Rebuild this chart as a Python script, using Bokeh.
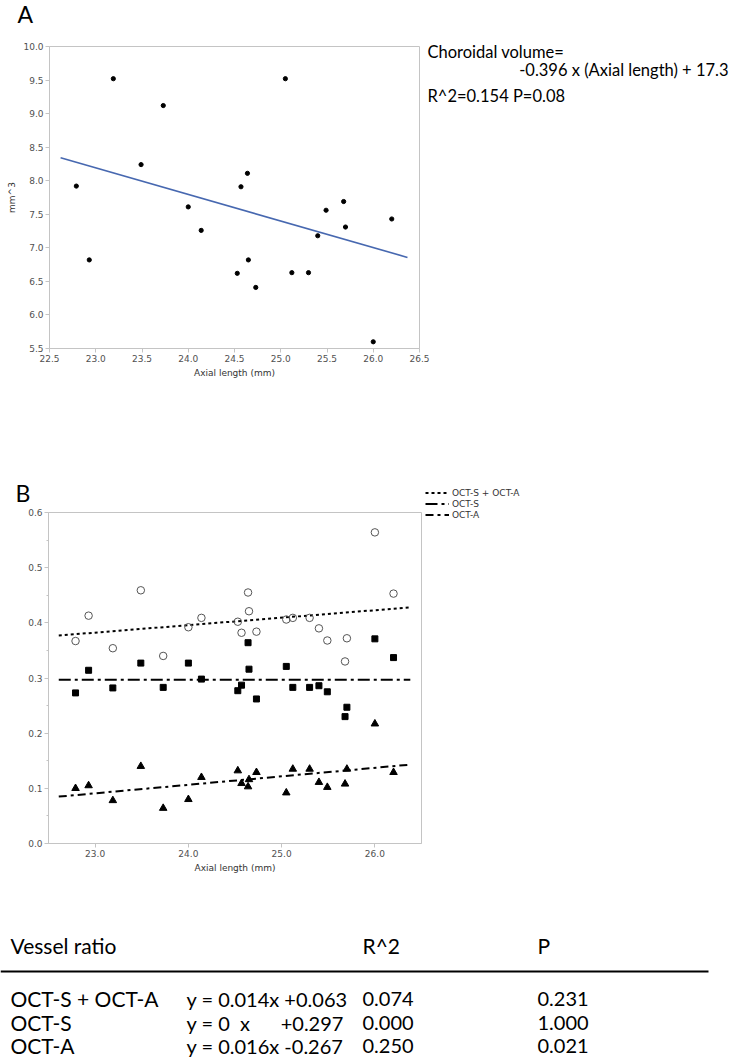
from bokeh.plotting import figure
from bokeh.models import Range1d, FixedTicker, Label, Legend, LegendItem, NumeralTickFormatter
from bokeh.layouts import column
from bokeh.embed import file_html
from bokeh.resources import INLINE
from bokeh.core.properties import value

# ---------------- data ----------------
axial_length = [22.79, 22.93, 23.19, 23.49, 23.73, 24.00, 24.14, 24.53, 24.57, 24.64, 24.65,
                24.73, 25.05, 25.12, 25.30, 25.40, 25.49, 25.68, 25.70, 26.00, 26.20]
choroidal_volume = [7.92, 6.82, 9.52, 8.24, 9.12, 7.61, 7.26, 6.62, 7.91, 8.11, 6.82,
                    6.41, 9.52, 6.63, 6.63, 7.18, 7.56, 7.69, 7.31, 5.60, 7.43]
oct_s_plus_a = [0.367, 0.413, 0.354, 0.459, 0.340, 0.392, 0.409, 0.402, 0.382, 0.455, 0.421,
                0.384, 0.406, 0.409, 0.409, 0.390, 0.368, 0.330, 0.372, 0.564, 0.453]
oct_s = [0.273, 0.314, 0.282, 0.327, 0.283, 0.327, 0.298, 0.277, 0.287, 0.364, 0.316,
         0.262, 0.321, 0.283, 0.283, 0.286, 0.275, 0.230, 0.247, 0.371, 0.337]
oct_a = [0.100, 0.105, 0.078, 0.140, 0.064, 0.080, 0.120, 0.132, 0.109, 0.103, 0.116,
         0.129, 0.092, 0.135, 0.135, 0.111, 0.102, 0.108, 0.135, 0.217, 0.129]

# regression of panel A
slope_a = -0.396
intercept_a = 17.3
fit_x_a = [22.62, 26.37]
# regression lines of panel B (end points)
fit_x_b = [22.61, 26.38]
fit_sa = [0.377, 0.428]
fit_s = [0.297, 0.297]
fit_a = [0.085, 0.143]

xlim_a = (22.5, 26.5)
ylim_a = (5.5, 10.0)
xlim_b = (22.5, 26.5)
ylim_b = (0.0, 0.6)
xticks_a = [22.5, 23.0, 23.5, 24.0, 24.5, 25.0, 25.5, 26.0, 26.5]
yticks_a = [5.5, 6.0, 6.5, 7.0, 7.5, 8.0, 8.5, 9.0, 9.5, 10.0]
xticks_b = [23.0, 24.0, 25.0, 26.0]
yticks_b = [0.0, 0.1, 0.2, 0.3, 0.4, 0.5, 0.6]
yminor_b = [0.05, 0.15, 0.25, 0.35, 0.45, 0.55]

annot_a = ["Choroidal volume=", "-0.396 x (Axial length) + 17.3", "R^2=0.154 P=0.08"]

table_header = ["Vessel ratio", "", "R^2", "P"]
table_names = ["OCT-S + OCT-A", "OCT-S", "OCT-A"]
table_eqs = ["y = 0.014x +0.063", "y = 0\u00a0 x\u00a0\u00a0\u00a0\u00a0\u00a0 +0.297", "y = 0.016x -0.267"]
table_r2 = ["0.074", "0.000", "0.250"]
table_p = ["0.231", "1.000", "0.021"]
legend_labels = ["OCT-S + OCT-A", "OCT-S", "OCT-A"]

# ---------------- style ----------------
W = 730
AX_FONT = "DejaVu Sans"
TXT_FONT = "Lato"
GRAY = "#c4c4c4"


class Geo:
    """maps pixel layout of a figure whose frame is the whole canvas"""
    def __init__(self, fw, fh, left, right, top, bottom, xlim, ylim):
        self.fw, self.fh = fw, fh
        self.left, self.top = left, top
        self.sx = (right - left) / (xlim[1] - xlim[0])
        self.sy = (bottom - top) / (ylim[1] - ylim[0])
        self.x0, self.y1 = xlim[0], ylim[1]
        self.xr = Range1d(self.x(0), self.x(fw))
        self.yr = Range1d(self.y(fh), self.y(0))

    def x(self, px):
        return self.x0 + (px - self.left) / self.sx

    def y(self, py):
        return self.y1 - (py - self.top) / self.sy


def make_panel(g, xlim, ylim, xticks, yticks, yminor):
    p = figure(width=g.fw, height=g.fh, x_range=g.xr, y_range=g.yr,
               output_backend="svg", toolbar_location=None, min_border=0)
    p.outline_line_color = None
    p.grid.visible = False
    p.background_fill_color = "white"
    p.border_fill_color = "white"
    p.xaxis.fixed_location = ylim[0]
    p.yaxis.fixed_location = xlim[0]
    p.xaxis.bounds = xlim
    p.yaxis.bounds = ylim
    p.xaxis.ticker = FixedTicker(ticks=xticks, minor_ticks=[])
    p.yaxis.ticker = FixedTicker(ticks=yticks, minor_ticks=yminor)
    for ax in (p.xaxis[0], p.yaxis[0]):
        ax.formatter = NumeralTickFormatter(format="0.0")
        ax.axis_line_color = GRAY
        ax.major_tick_line_color = GRAY
        ax.minor_tick_line_color = GRAY
        ax.major_tick_out = 4
        ax.major_tick_in = 0
        ax.minor_tick_out = 2
        ax.minor_tick_in = 0
        ax.major_label_text_font = AX_FONT
        ax.major_label_text_font_size = "9px"
        ax.major_label_text_color = "#505050"
        ax.axis_label_text_font = AX_FONT
        ax.axis_label_text_font_size = "9px"
        ax.axis_label_text_font_style = "normal"
        ax.axis_label_text_color = "#333333"
        ax.major_label_standoff = 2
        ax.axis_label_standoff = 3
    # plot box
    p.quad(left=[xlim[0]], right=[xlim[1]], bottom=[ylim[0]], top=[ylim[1]],
           fill_color=None, line_color=GRAY, line_width=1)
    return p


def text_label(g, px, py, text, size, align="left"):
    return Label(x=g.x(px), y=g.y(py), text=text, text_font=TXT_FONT, text_font_size=size,
                 text_baseline="middle", text_align=align, text_color="black")


# ---------------- panel A ----------------
A_HT = 412
gA = Geo(W, A_HT, 49, 419, 46, 348, xlim_a, ylim_a)
pA = make_panel(gA, xlim_a, ylim_a, xticks_a, yticks_a, [])
pA.xaxis.axis_label = "Axial length (mm)"
pA.yaxis.axis_label = "mm^3"

pA.line(fit_x_a, [slope_a * x + intercept_a for x in fit_x_a], line_color="#4768b0", line_width=1.6)
pA.scatter(axial_length, choroidal_volume, size=4.2, color="black")

pA.add_layout(text_label(gA, 17, 13, "A", "23px"))
pA.add_layout(text_label(gA, 427, 51, annot_a[0], "16.5px"))
pA.add_layout(text_label(gA, 728, 69, annot_a[1], "16.5px", align="right"))
pA.add_layout(text_label(gA, 427, 95, annot_a[2], "16.5px"))

# ---------------- panel B ----------------
B_HT = 472
gB = Geo(W, B_HT, 48, 421, 100, 431, xlim_b, ylim_b)
pB = make_panel(gB, xlim_b, ylim_b, xticks_b, yticks_b, yminor_b)
pB.xaxis.axis_label = "Axial length (mm)"

r_sa = pB.line(fit_x_b, fit_sa, line_color="black", line_width=2, line_dash="3 3")
r_s = pB.line(fit_x_b, fit_s, line_color="black", line_width=2, line_dash="12 4 3 4")
r_a = pB.line(fit_x_b, fit_a, line_color="black", line_width=2, line_dash="8 4 3 4")

pB.scatter(axial_length, oct_s_plus_a, marker="circle", size=7.5, fill_color=None,
           line_color="#555555", line_width=1)
pB.scatter(axial_length, oct_s, marker="square", size=6, color="black")
pB.scatter(axial_length, oct_a, marker="triangle", size=7.5, color="black")

pB.add_layout(text_label(gB, 15, 80, "B", "23px"))

legend = Legend(items=[LegendItem(label=legend_labels[0], renderers=[r_sa]),
                       LegendItem(label=legend_labels[1], renderers=[r_s]),
                       LegendItem(label=legend_labels[2], renderers=[r_a])],
                location=(425, B_HT - 108), padding=0, margin=0, spacing=0,
                glyph_width=24, glyph_height=11, label_height=11, label_standoff=3,
                label_text_font=AX_FONT, label_text_font_size="9px", label_text_color="#333333",
                border_line_color=None, background_fill_alpha=0)
pB.add_layout(legend)

# ---------------- table ----------------
T_H = 176
pT = figure(width=W, height=T_H, x_range=Range1d(0, W), y_range=Range1d(T_H, 0),
            output_backend="svg", toolbar_location=None, x_axis_type=None, y_axis_type=None,
            min_border=0)
pT.outline_line_color = None
pT.grid.visible = False

col_x = [10, 186, 362, 537]
header_y = 61
rule_y = 87
row_y = [114, 138, 161]
col_fs = ["21px", "20px", "20px", "20px"]
head_fs = "21px"

hx = [col_x[i] for i, t in enumerate(table_header) if t]
ht = [t for t in table_header if t]
pT.text(x=hx, y=[header_y] * len(ht), text=ht, text_font=value(TXT_FONT), text_font_size=head_fs,
        text_baseline="middle", text_color="black")
pT.segment(x0=[0], y0=[rule_y], x1=[708], y1=[rule_y], line_color="black", line_width=2)
for ci, colvals in enumerate([table_names, table_eqs, table_r2, table_p]):
    pT.text(x=[col_x[ci]] * len(colvals), y=row_y, text=colvals, text_font=value(TXT_FONT),
            text_font_size=col_fs[ci], text_baseline="middle", text_color="black")

layout = column(pA, pB, pT, spacing=0)
open("out.html", "w").write(file_html(layout, INLINE))
